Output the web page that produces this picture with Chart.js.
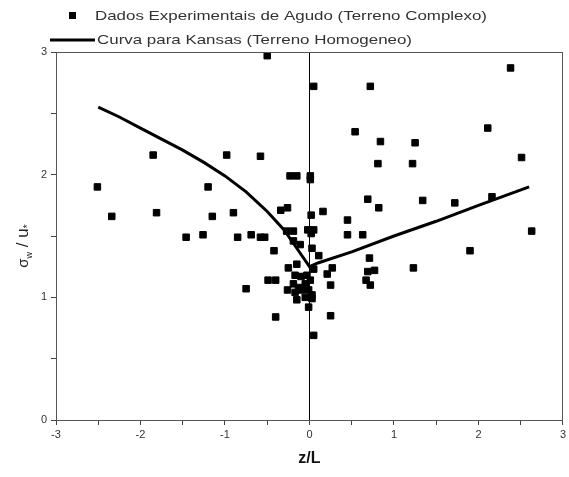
<!DOCTYPE html>
<html>
<head>
<meta charset="utf-8">
<script src="https://cdn.jsdelivr.net/npm/chart.js@4.4.1/dist/chart.umd.min.js"></script>
<style>
  html, body { margin: 0; padding: 0; background: #fff; }
  #wrap { width: 569px; height: 477px; position: relative; }
</style>
</head>
<body>
<div id="wrap"><canvas id="c" width="569" height="477"></canvas></div>
<script>
const agudoX = [
  -0.50, -1.85, -0.98, -0.58, -2.51, -1.20, -0.23, -0.15, -2.34, -1.81,
  -1.15, -0.90, -0.34, -0.26, -1.46, -1.26, -0.85, -0.69, -0.58, -0.53,
  -0.42, -0.75, -0.49, -0.40, -0.40, -0.27, -0.19, -0.19, -0.11, -0.15,
  -0.25, -0.17, -0.10, -0.03, -0.19, -0.13, -0.05,  0.01, -0.26, -0.17,
  -0.09, -0.01,  0.03, -0.15, -0.05,  0.03, -0.01,  0.05,  0.25,  0.01,
   0.01,  0.02,  0.16, -0.02,  0.05,  0.02,  0.03,  0.11,  0.05,  0.27,
   0.21,  0.25,  0.45,  0.45,  0.63,  0.69,  0.82,  0.71,  0.77,  0.69,
   0.67,  0.72,  1.23,  1.90,  2.63,  1.34,  1.72,  2.16,  0.81,  1.22,
   2.51,  0.54,  0.84,  1.25,  2.11,  0.05,  0.72,  2.38
];
const agudoY = [
  2.97, 2.16, 2.16, 2.15, 1.90, 1.90, 1.99, 1.99, 1.66, 1.69,
  1.66, 1.69, 1.71, 1.73, 1.49, 1.51, 1.49, 1.51, 1.49, 1.49,
  1.38, 1.07, 1.14, 1.14, 0.84, 1.54, 1.54, 1.46, 1.43, 1.27,
  1.24, 1.18, 1.17, 1.18, 1.11, 1.08, 1.11, 1.14, 1.06, 1.04,
  1.06, 1.06, 1.02, 0.98, 1.00, 0.99, 0.92, 0.69, 0.85, 1.99,
  1.96, 1.67, 1.70, 1.55, 1.55, 1.52, 1.40, 1.34, 1.23, 1.24,
  1.19, 1.10, 1.63, 1.51, 1.51, 1.80, 1.73, 1.32, 1.22, 1.21,
  1.14, 1.10, 1.24, 1.38, 1.54, 1.79, 1.77, 1.82, 2.09, 2.09,
  2.14, 2.35, 2.27, 2.26, 2.38, 2.72, 2.72, 2.87
];

// Kansas curve (homogeneous terrain)
const kansasX = [-2.50, -2.25, -2.00, -1.75, -1.50, -1.25, -1.00, -0.75, -0.50, -0.30, -0.15, 0.00, 0.10, 0.50, 1.00, 1.50, 2.00, 2.60];
const kansasY = [ 2.55,  2.47,  2.38,  2.29,  2.20,  2.10,  1.99,  1.86,  1.70,  1.55,  1.40, 1.25, 1.28, 1.37, 1.50, 1.62, 1.75, 1.90];

const xTickLabels = ['-3', '-2', '-1', '0', '1', '2', '3'];
const yTickLabels = ['0', '1', '2', '3'];

const legendPoints = 'Dados Experimentais de Agudo (Terreno Complexo)';
const legendCurve = 'Curva para Kansas (Terreno Homogeneo)';

const FONT = '"Liberation Sans", Arial, sans-serif';
const zip = (xs, ys) => xs.map((x, i) => ({ x, y: ys[i] }));

// stretch text to a target width (the original font is wider than ours)
function fitText(ctx, text, x, y, w) {
  const m = ctx.measureText(text).width;
  ctx.save();
  ctx.translate(x, y);
  ctx.scale(w / m, 1);
  ctx.fillText(text, 0, 0);
  ctx.restore();
}

const decor = {
  id: 'decor',
  afterDraw(chart) {
    const { ctx, chartArea: a } = chart;
    ctx.save();
    // frame
    ctx.strokeStyle = '#555';
    ctx.lineWidth = 1;
    ctx.strokeRect(Math.round(a.left) + 0.5, Math.round(a.top) + 0.5,
      Math.round(a.right - a.left) - 1, Math.round(a.bottom - a.top));

    // legend
    ctx.fillStyle = '#000';
    ctx.fillRect(69, 12, 7, 7);
    ctx.strokeStyle = '#000';
    ctx.lineWidth = 3;
    ctx.beginPath(); ctx.moveTo(50, 40); ctx.lineTo(95, 40); ctx.stroke();
    ctx.fillStyle = '#333';
    ctx.font = '13px ' + FONT;
    ctx.textBaseline = 'middle';
    ctx.textAlign = 'left';
    fitText(ctx, legendPoints, 95, 16, 392);
    fitText(ctx, legendCurve, 97, 40, 315);

    // x title
    ctx.font = 'bold 16px ' + FONT;
    ctx.textAlign = 'center';
    ctx.fillStyle = '#111';
    ctx.fillText('z/L', (a.left + a.right) / 2, 459);

    // y title: sigma_w / u_*
    ctx.fillStyle = '#222';
    ctx.translate(22, 246);
    ctx.rotate(-Math.PI / 2);
    ctx.textAlign = 'left';
    ctx.textBaseline = 'alphabetic';
    const parts = [
      ['σ', '15px', 0], ['w', '9px', 4], [' / u', '17px', 0], ['*', '10px', 3]
    ];
    let total = 0;
    parts.forEach(p => { ctx.font = p[1] + ' ' + FONT; total += ctx.measureText(p[0]).width; });
    let px = -total / 2;
    parts.forEach(p => {
      ctx.font = p[1] + ' ' + FONT;
      ctx.fillText(p[0], px, 6 + p[2]);
      px += ctx.measureText(p[0]).width;
    });
    ctx.restore();
  }
};

new Chart(document.getElementById('c'), {
  type: 'scatter',
  data: {
    datasets: [
      {
        label: legendPoints,
        data: zip(agudoX, agudoY),
        pointStyle: 'rect',
        pointRadius: 4.6,
        pointHoverRadius: 4.6,
        backgroundColor: '#000',
        borderColor: '#000',
        borderWidth: 1,
      },
      {
        label: legendCurve,
        data: zip(kansasX, kansasY),
        showLine: true,
        pointRadius: 0,
        borderColor: '#000',
        borderWidth: 3,
        tension: 0,
      },
    ],
  },
  options: {
    responsive: false,
    animation: false,
    devicePixelRatio: 1,
    layout: { padding: { top: 52, right: 3, left: 0, bottom: 0 } },
    plugins: { legend: { display: false }, tooltip: { enabled: false } },
    scales: {
      x: {
        type: 'linear', min: -3, max: 3,
        afterFit: (s) => { s.height = 57; },
        ticks: {
          stepSize: 0.5, autoSkip: false, maxRotation: 0, padding: 3,
          color: '#333', font: { family: FONT, size: 11 },
          callback: (v) => Number.isInteger(v) ? xTickLabels[v + 3] : '',
        },
        grid: {
          color: (c) => (c.tick && c.tick.value === 0 ? '#000' : 'rgba(0,0,0,0)'),
          tickColor: '#444', tickLength: 5, lineWidth: 1,
        },
        border: { display: true, color: '#555', width: 1 },
      },
      y: {
        type: 'linear', min: 0, max: 3,
        afterFit: (s) => { s.width = 56; },
        ticks: {
          stepSize: 0.5, autoSkip: false, padding: 4,
          color: '#333', font: { family: FONT, size: 11 },
          callback: (v) => Number.isInteger(v) ? yTickLabels[v] : '',
        },
        grid: { color: 'rgba(0,0,0,0)', tickColor: '#444', tickLength: 5 },
        border: { display: true, color: '#555', width: 1 },
      },
    },
  },
  plugins: [decor],
});
</script>
</body>
</html>
